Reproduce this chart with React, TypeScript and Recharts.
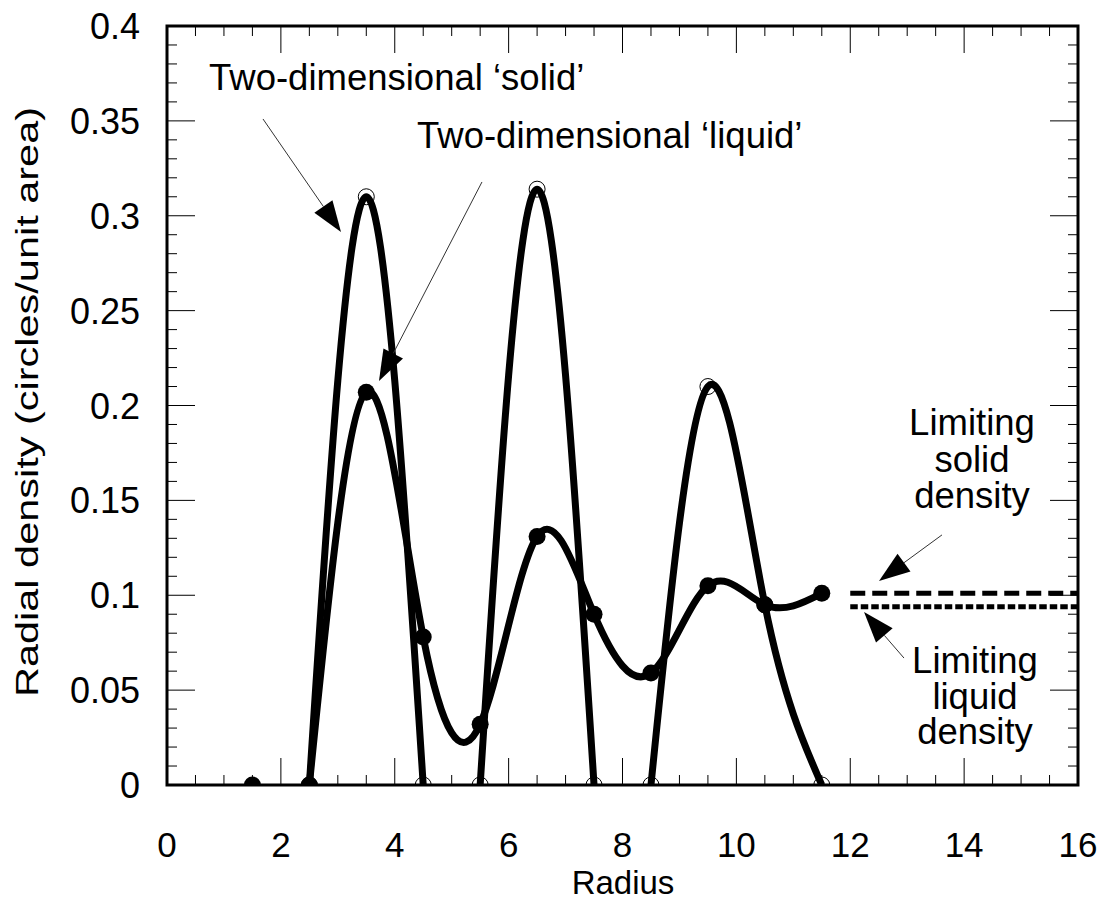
import React from 'react';
import { ComposedChart, Line, XAxis, YAxis, ReferenceArea } from 'recharts';

// solid: three separate peaks (open circles)
const SOLID_R_1 = [2.5, 3.5, 4.5];
const SOLID_D_1 = [0, 0.31, 0];
const SOLID_R_2 = [5.5, 6.5, 7.5];
const SOLID_D_2 = [0, 0.314, 0];
const SOLID_R_3 = [8.5, 9.5, 10.5, 11.5];
const SOLID_D_3 = [0, 0.21, 0.095, 0];

// liquid: filled dots, curve starts at r = 2.5
const LIQUID_R = [1.5, 2.5, 3.5, 4.5, 5.5, 6.5, 7.5, 8.5, 9.5, 10.5, 11.5];
const LIQUID_D = [0, 0, 0.207, 0.078, 0.032, 0.131, 0.09, 0.059, 0.105, 0.095, 0.101];
const LIQUID_CURVE_FROM = 2.5;

const LIMIT_R = [12, 16];
const SOLID_LIMIT = 0.101;
const LIQUID_LIMIT = 0.094;

const X_MAJOR = [0, 2, 4, 6, 8, 10, 12, 14, 16];
const Y_MAJOR = [0, 0.05, 0.1, 0.15, 0.2, 0.25, 0.3, 0.35, 0.4];

const X_TICKS = Array.from({ length: 33 }, (_, i) => i * 0.5);
const Y_TICKS = Array.from({ length: 41 }, (_, i) => i / 100);

const W = 1106;
const H = 901;
const G = { left: 167, right: 1078, top: 26, bottom: 785 };
const AXIS_W = 60;
const AXIS_H = 60;
const FONT = '"Liberation Sans", Arial, Helvetica, sans-serif';

const toPts = (rs: number[], ds: number[]) => rs.map((r, i) => ({ r, d: ds[i] }));

const solid1 = toPts(SOLID_R_1, SOLID_D_1);
const solid2 = toPts(SOLID_R_2, SOLID_D_2);
const solid3 = toPts(SOLID_R_3, SOLID_D_3);
const liquidPts = toPts(LIQUID_R, LIQUID_D);
const liquidCurve = liquidPts.filter((p) => p.r >= LIQUID_CURVE_FROM);
const solidLimit = LIMIT_R.map((r) => ({ r, d: SOLID_LIMIT }));
const liquidLimit = LIMIT_R.map((r) => ({ r, d: LIQUID_LIMIT }));

const sx = (r: number) => G.left + (r / 16) * (G.right - G.left);
const sy = (d: number) => G.bottom - (d / 0.4) * (G.bottom - G.top);

function XTick(props: any) {
  const { x, payload } = props;
  const v = payload.value;
  const major = X_MAJOR.includes(v);
  const len = major ? 27 : 10;
  return (
    <g>
      <line x1={x} x2={x} y1={G.bottom} y2={G.bottom - len} stroke="#000" strokeWidth={1} />
      <line x1={x} x2={x} y1={G.top} y2={G.top + len} stroke="#000" strokeWidth={1} />
      {major && (
        <text x={x} y={G.bottom + 72} textAnchor="middle" fontSize={35} fontFamily={FONT} fill="#000">
          {v}
        </text>
      )}
    </g>
  );
}

function YTick(props: any) {
  const { y, payload } = props;
  const v = payload.value;
  const major = Y_MAJOR.some((m) => Math.abs(m - v) < 1e-9);
  const len = major ? 28 : 10;
  return (
    <g>
      <line x1={G.left} x2={G.left + len} y1={y} y2={y} stroke="#000" strokeWidth={1} />
      <line x1={G.right} x2={G.right - len} y1={y} y2={y} stroke="#000" strokeWidth={1} />
      {major && (
        <text x={140} y={y + 13} textAnchor="end" fontSize={36} fontFamily={FONT} fill="#000">
          {String(v)}
        </text>
      )}
    </g>
  );
}

function Arrow({ from, to }: { from: [number, number]; to: [number, number] }) {
  const x1 = sx(from[0]);
  const y1 = sy(from[1]);
  const x2 = sx(to[0]);
  const y2 = sy(to[1]);
  const dx = x2 - x1;
  const dy = y2 - y1;
  const len = Math.hypot(dx, dy);
  const ux = dx / len;
  const uy = dy / len;
  const hl = 31;
  const hw = 11;
  const bx = x2 - ux * hl;
  const by = y2 - uy * hl;
  const pts = `${x2},${y2} ${bx - uy * hw},${by + ux * hw} ${bx + uy * hw},${by - ux * hw}`;
  return (
    <g>
      <line x1={x1} y1={y1} x2={bx} y2={by} stroke="#333" strokeWidth={1} />
      <polygon points={pts} fill="#000" />
    </g>
  );
}

const openDot = { r: 8, fill: 'none', stroke: '#000', strokeWidth: 1 };

export default function App() {
  const txt = { fontSize: 36.5, fontFamily: FONT, fill: '#000' };
  return (
    <div style={{ position: 'absolute', left: 0, top: 0, width: W, height: H, background: '#fff' }}>
      <ComposedChart
        width={W}
        height={H}
        margin={{ top: G.top, right: W - G.right, bottom: H - G.bottom - AXIS_H, left: G.left - AXIS_W }}
      >
        <XAxis
          dataKey="r"
          type="number"
          domain={[0, 16]}
          ticks={X_TICKS}
          interval={0}
          height={AXIS_H}
          axisLine={false}
          tickLine={false}
          tick={<XTick />}
          allowDataOverflow
        />
        <YAxis
          type="number"
          domain={[0, 0.4]}
          ticks={Y_TICKS}
          interval={0}
          width={AXIS_W}
          axisLine={false}
          tickLine={false}
          tick={<YTick />}
          allowDataOverflow
        />
        <ReferenceArea x1={0} x2={16} y1={0} y2={0.4} fill="none" stroke="#000" strokeWidth={3} ifOverflow="visible" />
        <Line data={solidLimit} dataKey="d" type="linear" stroke="#000" strokeWidth={5} strokeDasharray="15 7" dot={false} isAnimationActive={false} />
        <Line data={liquidLimit} dataKey="d" type="linear" stroke="#000" strokeWidth={5} strokeDasharray="7.5 3" dot={false} isAnimationActive={false} />
        <Line data={solid1} dataKey="d" type="natural" stroke="#000" strokeWidth={7} dot={openDot} isAnimationActive={false} />
        <Line data={solid2} dataKey="d" type="natural" stroke="#000" strokeWidth={7} dot={openDot} isAnimationActive={false} />
        <Line data={solid3} dataKey="d" type="natural" stroke="#000" strokeWidth={7} dot={openDot} isAnimationActive={false} />
        <Line data={liquidCurve} dataKey="d" type="natural" stroke="#000" strokeWidth={7} dot={false} isAnimationActive={false} />
        <Line data={liquidPts} dataKey="d" type="linear" stroke="none" dot={{ r: 8.5, fill: '#000', stroke: 'none' }} isAnimationActive={false} />
      </ComposedChart>
      <svg width={W} height={H} style={{ position: 'absolute', left: 0, top: 0, pointerEvents: 'none' }}>
        <text x={209} y={90} {...txt}>Two-dimensional ‘solid’</text>
        <text x={417} y={148} {...txt}>Two-dimensional ‘liquid’</text>
        <Arrow from={[1.686, 0.351]} to={[3.056, 0.2914]} />
        <Arrow from={[5.532, 0.3178]} to={[3.723, 0.2129]} />
        <Arrow from={[13.611, 0.1318]} to={[12.505, 0.1075]} />
        <Arrow from={[12.944, 0.0669]} to={[12.242, 0.0912]} />
        <text textAnchor="middle" {...txt}>
          <tspan x={972} y={435}>Limiting</tspan>
          <tspan x={972} y={472}>solid</tspan>
          <tspan x={972} y={508}>density</tspan>
        </text>
        <text textAnchor="middle" {...txt}>
          <tspan x={975} y={673}>Limiting</tspan>
          <tspan x={975} y={709}>liquid</tspan>
          <tspan x={975} y={744}>density</tspan>
        </text>
        <text x={623} y={894} textAnchor="middle" fontSize={33} fontFamily={FONT} fill="#000">Radius</text>
        <text
          transform={`translate(38, 402) rotate(-90)`}
          textAnchor="middle"
          fontSize={32}
          fontFamily={FONT}
          fill="#000"
          textLength={590}
          lengthAdjust="spacingAndGlyphs"
        >
          Radial density (circles/unit area)
        </text>
      </svg>
    </div>
  );
}
